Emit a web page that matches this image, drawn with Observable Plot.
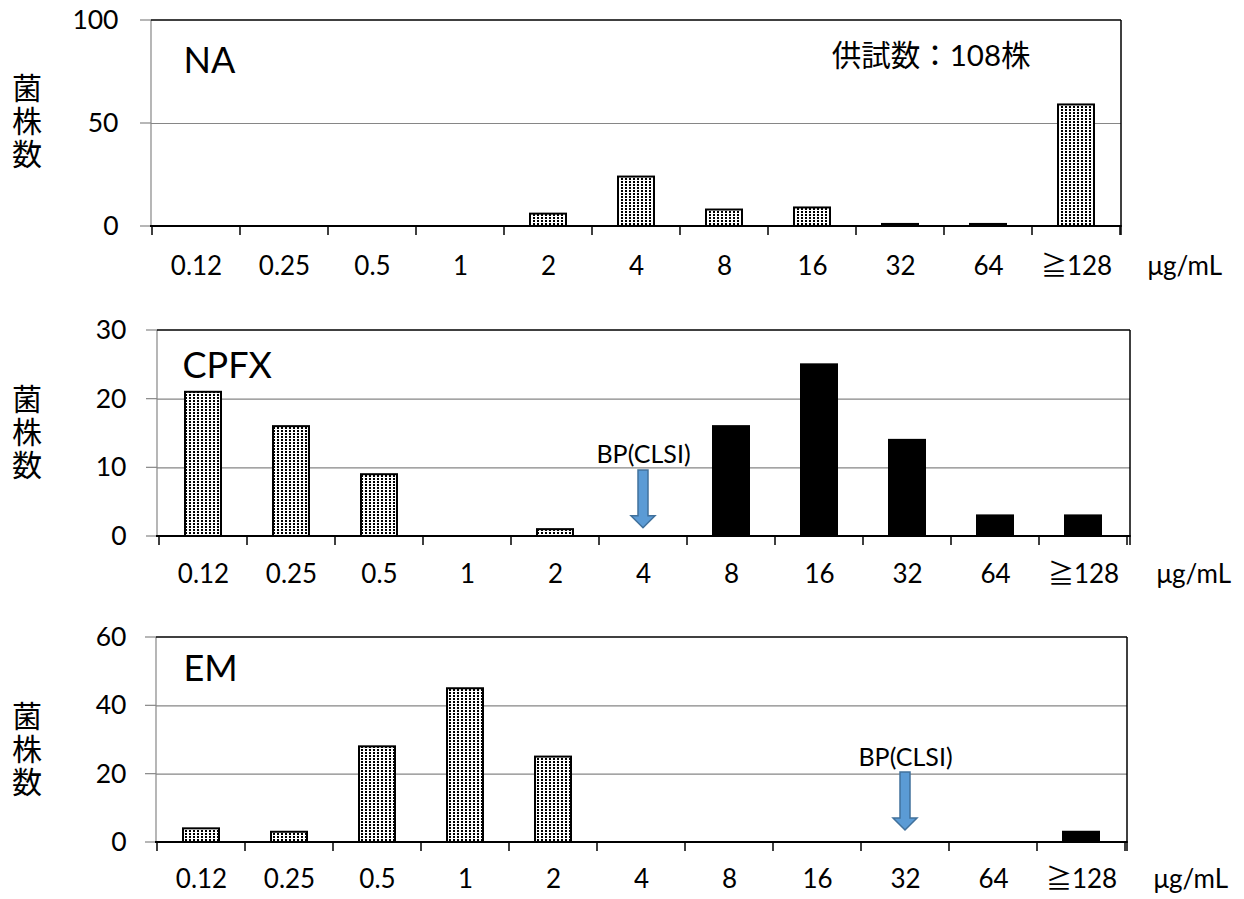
<!DOCTYPE html>
<html><head><meta charset="utf-8">
<script src="https://cdn.jsdelivr.net/npm/d3@7"></script>
<script src="https://cdn.jsdelivr.net/npm/@observablehq/plot@0.6"></script>
<style>
body{margin:0;background:#fff;}
#chart{width:1244px;}
#chart svg{display:block;}
</style></head><body><div id="chart"></div>
<script>
// ---- data ----
const categories = ["0.12","0.25","0.5","1","2","4","8","16","32","64","≧128"];
const naCounts   = [0,0,0,0,6,24,8,9,1,1,59];
const naResistant   = [false,false,false,false,false,false,false,false,true,true,false];
const cpfxCounts = [21,16,9,0,1,0,16,25,14,3,3];
const cpfxResistant = [false,false,false,false,false,false,true,true,true,true,true];
const emCounts   = [4,3,28,45,25,0,0,0,0,0,3];
const emResistant   = [false,false,false,false,false,false,false,false,false,false,true];
const panelNames = ["NA","CPFX","EM"];
const yTicksNA = [0,50,100];
const yTicksCPFX = [0,10,20,30];
const yTicksEM = [0,20,40,60];
const breakpointCats = [null,"4","32"];
const arrowTopValues = [null,9.6,20.5];
const arrowTipValues = [null,1.2,3.5];
const bpLabelValues = [null,11.8,24.6];
const bpLabel = "BP(CLSI)";
const unitLabel = "μg/mL";
const yLabel = "菌株数";
const totalNote = "供試数：108株";

const FONT = 'Lato, "Noto Sans CJK JP", sans-serif';
const CJK = '"Noto Sans CJK JP", sans-serif';

const panels = [
  {counts: naCounts, res: naResistant, ticks: yTicksNA, height: 300, mt: 20, mb: 74, ml: 151, mr: 123,
   labelDx: 32, labelDy: 27, yLabDx: -33, xLabDy: 40, yLabelDy: -1},
  {counts: cpfxCounts, res: cpfxResistant, ticks: yTicksCPFX, height: 310, mt: 30, mb: 74, ml: 157, mr: 114,
   labelDx: 25, labelDy: 22, yLabDx: -31, xLabDy: 38, yLabelDy: 0},
  {counts: emCounts, res: emResistant, ticks: yTicksEM, height: 289, mt: 27, mb: 57, ml: 156, mr: 117,
   labelDx: 27, labelDy: 18, yLabDx: -30, xLabDy: 37, yLabelDy: 11}
];

function defsMark(id) {
  return () => {
    const g = d3.create("svg:g");
    const p = g.append("defs").append("pattern")
      .attr("id", id).attr("patternUnits", "userSpaceOnUse")
      .attr("width", 4).attr("height", 3);
    p.append("rect").attr("width", 4).attr("height", 3).attr("fill", "white");
    p.append("rect").attr("x", 1).attr("y", 1).attr("width", 2).attr("height", 2).attr("fill", "black");
    return g.node();
  };
}

function frameMark(index, scales, values, dims) {
  const {x, y} = scales;
  const {width, marginLeft: ml, marginRight: mr} = dims;
  const step = x(categories[1]) - x(categories[0]);
  const bw = x.bandwidth ? x.bandwidth() : step * 0.41;
  const y0 = y(0), yTop = y(y.domain()[1]);
  const g = d3.create("svg:g");
  const line = (x1, y1, x2, y2, stroke, sw) =>
    g.append("line").attr("x1", x1).attr("y1", y1).attr("x2", x2).attr("y2", y2)
      .attr("stroke", stroke).attr("stroke-width", sw);
  line(ml, yTop, ml, y0, "#868686", 1.2);
  line(ml, yTop, width - mr, yTop, "black", 1.5);
  line(width - mr, yTop, width - mr, y0 + 9, "black", 1.5);
  line(ml - 1, y0, width - mr + 0.75, y0, "black", 2);
  for (let i = 0; i <= categories.length; i++) {
    const bx = (i < categories.length ? x(categories[i]) : x(categories[i - 1]) + step) + bw / 2 - step / 2;
    line(bx, y0, bx, y0 + 9, "black", 1.5);
  }
  return g.node();
}

function yTickMark(ticks) {
  return (index, scales, values, dims) => {
    const g = d3.create("svg:g");
    for (const t of ticks) {
      const yy = scales.y(t);
      g.append("line").attr("x1", dims.marginLeft - 11).attr("x2", dims.marginLeft)
        .attr("y1", yy).attr("y2", yy).attr("stroke", "#868686").attr("stroke-width", 1.2);
    }
    return g.node();
  };
}

function yLabelMark(dy) {
  return (index, scales, values, dims) => {
    const cy = (dims.marginTop + dims.height - dims.marginBottom) / 2 + dy;
    const g = d3.create("svg:g");
    g.append("text").attr("x", 27).attr("y", cy)
      .attr("text-anchor", "middle")
      .attr("font-family", CJK).attr("font-size", 30).attr("fill", "black")
      .style("writing-mode", "vertical-rl")
      .style("letter-spacing", "3px")
      .text(yLabel);
    return g.node();
  };
}

function arrowMark(i) {
  return (index, scales) => {
    const cx = scales.x(breakpointCats[i]) + scales.x.bandwidth() / 2;
    const yt = scales.y(arrowTopValues[i]), yb = scales.y(arrowTipValues[i]);
    const s = 5, h = 12, hh = 12;
    const d = `M${cx - s},${yt}L${cx + s},${yt}L${cx + s},${yb - hh}L${cx + h},${yb - hh}L${cx},${yb}L${cx - h},${yb - hh}L${cx - s},${yb - hh}Z`;
    const g = d3.create("svg:g");
    g.append("path").attr("d", d).attr("fill", "#5b9bd5").attr("stroke", "#41719c").attr("stroke-width", 1.5);
    return g.node();
  };
}

const chart = document.getElementById("chart");
panels.forEach((p, i) => {
  const data = categories.map((c, k) => ({cat: c, value: p.counts[k], res: p.res[k]}));
  const yMax = p.ticks[p.ticks.length - 1];
  const pid = "dots" + i;
  const marks = [
    defsMark(pid),
    Plot.ruleY(p.ticks.filter(t => t > 0 && t < yMax), {y: d => d, stroke: "#868686", strokeWidth: 1.2}),
    yTickMark(p.ticks),
    Plot.barY(data.filter(d => d.value > 0 && !d.res), {x: "cat", y: "value", fill: `url(#${pid})`, stroke: "black", strokeWidth: 2}),
    Plot.barY(data.filter(d => d.value > 0 && d.res), {x: "cat", y: "value", fill: "black", stroke: "black", strokeWidth: 2}),
    frameMark,
    Plot.text(p.ticks, {y: d => d, text: d => String(d), frameAnchor: "left", textAnchor: "end", dx: p.yLabDx, fontSize: 26.5, fontFamily: FONT, fill: "black"}),
    Plot.text(categories, {x: d => d, text: d => d, frameAnchor: "bottom", lineAnchor: "middle", dy: p.xLabDy, fontSize: 26, fontFamily: FONT, fill: "black"}),
    Plot.text([unitLabel], {text: d => d, frameAnchor: "bottom-right", textAnchor: "start", lineAnchor: "middle", dx: 26, dy: p.xLabDy, fontSize: 26, fontFamily: FONT, fill: "black"}),
    Plot.text([panelNames[i]], {text: d => d, frameAnchor: "top-left", textAnchor: "start", lineAnchor: "top", dx: p.labelDx, dy: p.labelDy, fontSize: 36, fontFamily: FONT, fill: "black"}),
    yLabelMark(p.yLabelDy)
  ];
  if (i === 0) {
    marks.push(Plot.text([totalNote], {text: d => d, frameAnchor: "top-right", textAnchor: "end", lineAnchor: "middle", dx: -91, dy: 36, fontSize: 29.5, fontFamily: FONT, fill: "black"}));
  }
  if (breakpointCats[i]) {
    marks.push(arrowMark(i));
    marks.push(Plot.text([bpLabel], {x: () => breakpointCats[i], y: () => bpLabelValues[i], text: d => d, fontSize: 25, fontFamily: FONT, fill: "black"}));
  }
  const svg = Plot.plot({
    width: 1244, height: p.height,
    marginTop: p.mt, marginBottom: p.mb, marginLeft: p.ml, marginRight: p.mr,
    style: {background: "white", fontFamily: FONT, overflow: "visible"},
    x: {domain: categories, paddingInner: 0.59, paddingOuter: 0.295, axis: null},
    y: {domain: [0, yMax], axis: null},
    marks
  });
  chart.appendChild(svg);
});
</script>
</body></html>
